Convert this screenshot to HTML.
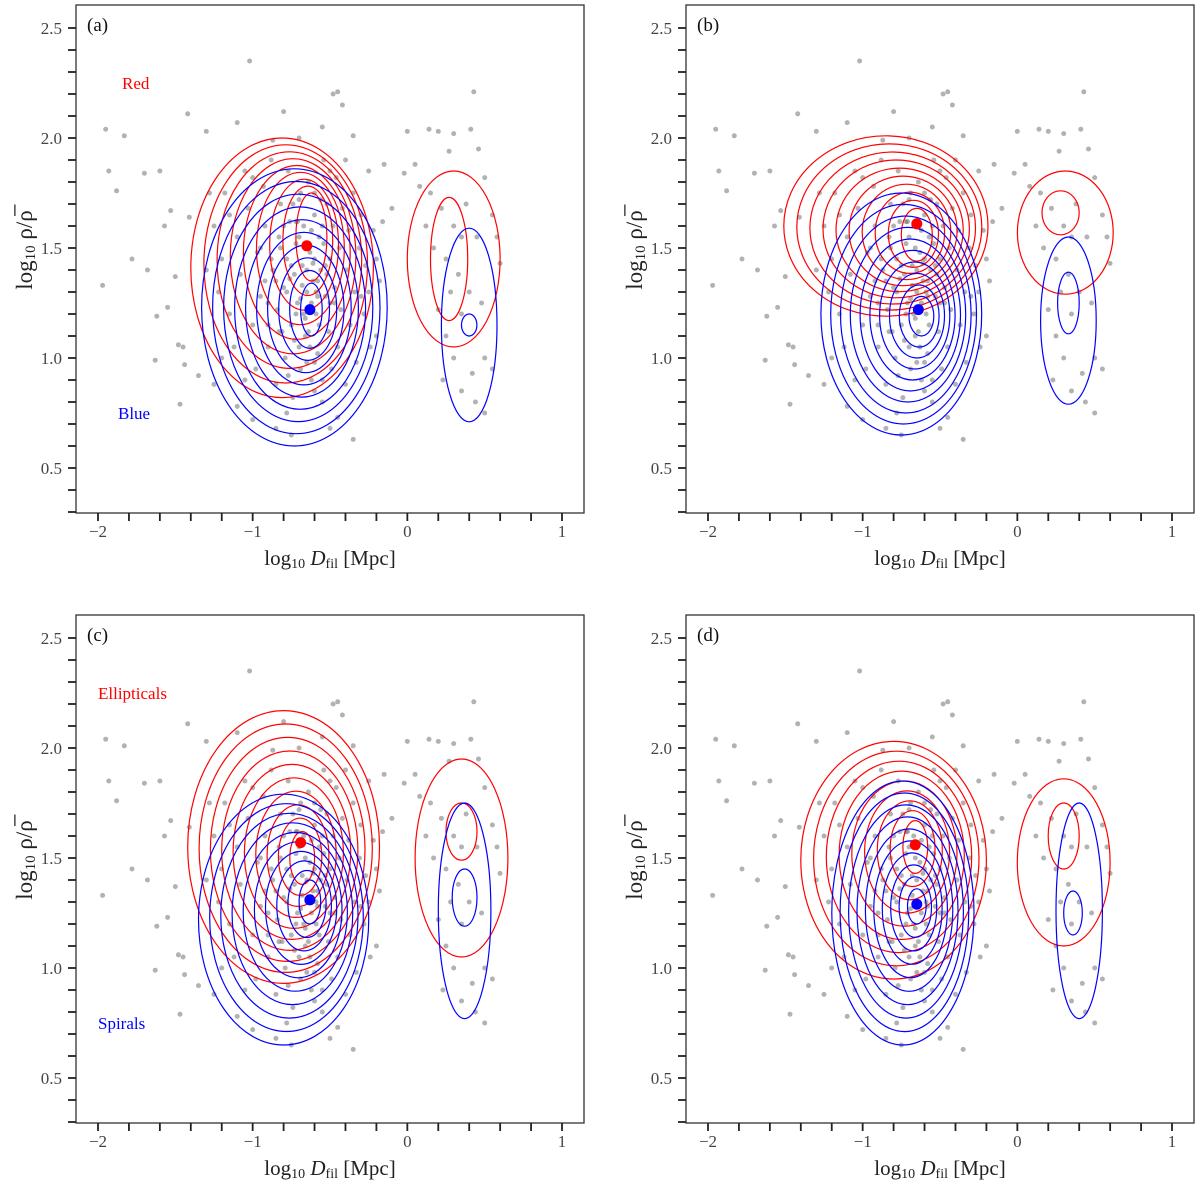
<!DOCTYPE html>
<html><head><meta charset="utf-8">
<style>
html,body{margin:0;padding:0;background:#fff;}
svg{display:block;font-family:"Liberation Serif",serif;}
</style></head>
<body>
<svg id="fig" width="1200" height="1189" viewBox="0 0 1200 1189" xmlns="http://www.w3.org/2000/svg"></svg>
<script>
// shared scatter data [log10 Dfil, log10 rho]
const scatterX = [-1.95,-1.83,-1.93,-1.88,-1.97,-1.78,-1.7,-1.6,-1.68,-1.62,-1.63,-1.55,-1.5,-1.48,-1.45,-1.44,-1.47,-1.53,-1.57,-1.42,-1.41,-1.02,-0.48,-0.42,-0.8,-0.45,-0.35,-0.55,-0.7,-0.87,-1.1,-1.3,0.0,0.14,0.2,0.3,0.41,0.43,0.27,0.46,-0.15,-0.02,0.05,0.08,-0.1,0.22,0.3,0.35,0.45,0.5,0.55,0.58,0.6,0.17,0.25,0.33,0.4,0.28,0.2,0.35,0.48,0.5,0.42,0.3,0.25,0.55,0.44,0.5,0.35,0.23,0.38,0.12,0.15,-0.2,-0.25,-0.2,-1.35,-1.25,-1.1,-1.0,-0.85,-0.75,-0.5,-0.35,-0.45,
-1.25,-1.2,-1.22,-1.18,-1.15,-1.12,-1.1,-1.08,-1.05,-1.03,-1.0,-0.98,-0.97,-0.95,-0.93,-0.92,-0.9,-0.88,-0.87,-0.85,-0.84,-0.83,-0.82,-0.8,-0.79,-0.78,-0.77,-0.76,-0.75,-0.74,-0.73,-0.72,-0.71,-0.7,-0.69,-0.68,-0.67,-0.66,-0.65,-0.64,-0.63,-0.62,-0.61,-0.6,-0.59,-0.58,-0.57,-0.56,-0.55,-0.54,-0.53,-0.52,-0.51,-0.5,-0.49,-0.48,-0.47,-0.46,-0.45,-0.44,-0.43,-0.42,-0.4,-0.39,-0.38,-0.37,-0.35,-0.34,-0.33,-0.31,-0.3,-0.28,-0.27,-0.25,-0.24,-0.22,-0.18,-0.16,
-0.78,-0.72,-0.68,-0.62,-0.6,-0.7,-0.65,-0.58,-0.75,-0.66,-0.57,-0.63,-0.8,-0.55,-0.85,-0.7,-0.6,-0.9,-0.52,-0.74,
-1.3,-1.15,-0.95,-0.9,-1.05,-0.6,-0.5,-0.4,-1.2,-1.28,-0.66,-0.72,-0.58,-0.83,-0.47,-0.92,-1.0,-0.3,-0.78,-0.55,
-0.69,-0.61,-0.76,-0.54,-0.64,-0.71,-0.59,-0.82,-0.67,-0.5,-0.73,-0.62,-0.88,-0.56,-0.77,-0.65,-0.69,-0.6,-0.81,-0.53];
const scatterY = [2.04,2.01,1.85,1.76,1.33,1.45,1.84,1.85,1.40,1.19,0.99,1.23,1.37,1.06,1.05,0.97,0.79,1.67,1.60,2.11,1.64,2.35,2.2,2.15,2.12,2.21,2.01,2.05,2.0,1.99,2.07,2.03,2.03,2.04,2.03,2.02,2.04,2.21,1.94,1.95,1.88,1.84,1.88,1.78,1.68,1.68,1.6,1.55,1.55,1.82,1.65,1.55,1.43,1.5,1.45,1.38,1.3,1.3,1.22,1.2,1.25,1.0,0.93,1.0,1.1,0.95,0.8,0.75,0.85,0.9,1.7,1.6,1.75,1.1,1.3,1.45,0.92,0.88,0.78,0.72,0.68,0.65,0.68,0.63,0.73,
1.6,1.45,1.3,1.75,1.2,1.05,1.55,1.38,1.85,1.68,1.15,0.95,1.48,1.28,1.78,1.6,1.05,1.9,1.4,0.88,1.22,1.55,1.7,1.32,1.0,1.45,1.85,1.62,1.15,0.82,1.38,1.52,1.25,1.72,0.95,1.42,1.6,1.1,1.3,1.8,1.48,0.9,1.35,1.65,1.2,1.02,1.55,1.4,0.8,1.9,1.28,1.7,1.12,1.45,0.95,1.6,1.32,1.82,1.05,1.5,1.22,1.68,0.88,1.4,1.58,1.15,1.75,1.3,0.98,1.5,1.65,1.2,1.42,1.85,1.05,1.58,1.35,1.62,
1.3,1.2,1.33,1.25,1.45,1.55,1.4,1.35,1.42,1.18,1.15,1.05,1.6,1.6,1.35,1.05,0.98,1.25,1.38,1.7,
1.4,1.65,1.5,1.15,0.9,1.75,1.85,1.9,1.0,1.75,1.5,1.62,1.28,1.12,1.25,1.35,1.82,1.28,0.75,0.9,
1.27,1.43,1.36,1.52,1.12,1.62,1.3,1.5,1.2,1.25,1.08,1.58,1.45,1.72,0.92,0.98,1.75,0.85,1.12,1.42];

// contour groups per panel: outer ellipse [cx, cy, rx, ry], inner ellipse, level count
const panelNames = ['a','b','c','d'];
const redOuter   = [[-0.81,1.41,0.59,0.59],[-0.85,1.60,0.66,0.41],[-0.80,1.55,0.62,0.62],[-0.80,1.49,0.60,0.54]];
const redInner   = [[-0.62,1.55,0.10,0.20],[-0.65,1.56,0.10,0.12],[-0.68,1.50,0.08,0.12],[-0.66,1.55,0.08,0.12]];
const redLevels  = [9,10,10,9];
const blueOuter  = [[-0.73,1.23,0.60,0.63],[-0.75,1.20,0.52,0.55],[-0.80,1.22,0.55,0.57],[-0.74,1.25,0.46,0.60]];
const blueInner  = [[-0.62,1.22,0.07,0.12],[-0.62,1.19,0.08,0.09],[-0.63,1.30,0.07,0.10],[-0.65,1.28,0.06,0.08]];
const blueLevels = [10,10,10,10];
const redSec     = [[[0.30,1.45,0.30,0.40],[0.27,1.45,0.12,0.28]],[[0.31,1.57,0.31,0.28],[0.28,1.66,0.12,0.10]],[[0.35,1.50,0.30,0.45],[0.35,1.62,0.10,0.13]],[[0.30,1.48,0.30,0.38],[0.30,1.60,0.10,0.15]]];
const blueSec    = [[[0.40,1.15,0.18,0.44],[0.40,1.15,0.05,0.05]],[[0.33,1.17,0.18,0.38],[0.33,1.25,0.07,0.14]],[[0.37,1.26,0.17,0.49],[0.37,1.32,0.08,0.13]],[[0.40,1.26,0.15,0.49],[0.36,1.25,0.06,0.10]]];
const redMeanX  = [-0.65,-0.65,-0.69,-0.66];
const redMeanY  = [1.51,1.61,1.57,1.56];
const blueMeanX = [-0.63,-0.64,-0.63,-0.65];
const blueMeanY = [1.22,1.22,1.31,1.29];
const redLabels  = ['Red','High mass','Ellipticals','High D4000'];
const blueLabels = ['Blue','Low mass','Spirals','Low D4000'];
const xTickLabels = ['\u22122','\u22121','0','1'];
const yTickLabels = ['0.5','1.0','1.5','2.0','2.5'];

const NS='http://www.w3.org/2000/svg';
const svg=document.getElementById('fig');
function mk(tag,attrs,parent){const e=document.createElementNS(NS,tag);for(const k in attrs)e.setAttribute(k,attrs[k]);(parent||svg).appendChild(e);return e;}

const offsets=[[0,0],[610,0],[0,610],[610,610]];
panelNames.forEach((p,i)=>{
  const ox=offsets[i][0], oy=offsets[i][1];
  const sx=v=>ox+98+(v+2)*154.67;
  const sy=v=>oy+468-(v-0.5)*220;
  const L=ox+76,R=ox+584,T=oy+5,B=oy+513;
  const g=mk('g',{});
  
  
  const clipId='clip'+p;
  const cp=mk('clipPath',{id:clipId},g);mk('rect',{x:L,y:T,width:R-L,height:B-T},cp);
  const plot=mk('g',{'clip-path':'url(#'+clipId+')'},g);
  const sg=mk('g',{},plot);
  
  
  for(let k=0;k<scatterX.length;k++){
    mk('circle',{cx:sx(scatterX[k]).toFixed(1),cy:sy(scatterY[k]).toFixed(1),r:2.5,fill:'#666','fill-opacity':0.5},sg);
  }
  function ell(e,col,name){
    const el=mk('ellipse',{cx:sx(e[0]).toFixed(1),cy:sy(e[1]).toFixed(1),rx:(e[2]*154.67).toFixed(1),ry:(e[3]*220).toFixed(1),fill:'none',stroke:col,'stroke-width':1.2},plot);
    
    
  }
  function levels(o,inn,n,col,name){
    for(let l=0;l<n;l++){const t=l/(n-1);ell(o.map((v,j)=>v+(inn[j]-v)*t),col,name);}
  }
  levels(redOuter[i],redInner[i],redLevels[i],'#f00','red-contour');
  levels(blueOuter[i],blueInner[i],blueLevels[i],'#00f','blue-contour');
  redSec[i].forEach(e=>ell(e,'#f00','red-secondary-contour'));
  blueSec[i].forEach(e=>ell(e,'#00f','blue-secondary-contour'));
  const rm=mk('circle',{cx:sx(redMeanX[i]),cy:sy(redMeanY[i]),r:5.5,fill:'#f00'},plot);
  
  
  const bm=mk('circle',{cx:sx(blueMeanX[i]),cy:sy(blueMeanY[i]),r:5.5,fill:'#00f'},plot);
  
  
  const fr=mk('rect',{x:L,y:T,width:R-L,height:B-T,fill:'none',stroke:'#333','stroke-width':1.3},g);
  
  
  for(let k=0;k<=15;k++){const v=-2+k*0.2;const x=sx(v);mk('line',{x1:x,x2:x,y1:B,y2:B+8,stroke:'#222','stroke-width':1.8},g);}
  xTickLabels.forEach((s,k)=>{const t=mk('text',{x:sx(-2+k),y:B+24,'text-anchor':'middle','font-size':17,fill:'#444'},g);t.textContent=s;
    });
  for(let k=0;k<=22;k++){const v=0.3+k*0.1;const y=sy(v);if(y<T-1)continue;mk('line',{x1:L-8,x2:L,y1:y,y2:y,stroke:'#222','stroke-width':1.8},g);}
  yTickLabels.forEach((s,k)=>{const t=mk('text',{x:L-14,y:sy(0.5+k*0.5)+6,'text-anchor':'end','font-size':17,fill:'#444'},g);t.textContent=s;
    });
  const xt=mk('text',{x:ox+330,y:oy+565,'text-anchor':'middle','font-size':21,fill:'#222'},g);
  xt.innerHTML='log<tspan font-size="14" dy="3">10</tspan><tspan dy="-3"> </tspan><tspan font-style="italic">D</tspan><tspan font-size="14" dy="3">fil</tspan><tspan dy="-3"> [Mpc]</tspan>';
  
  const yt=mk('text',{x:0,y:0,'text-anchor':'middle','font-size':23,fill:'#222',transform:'translate('+(ox+32)+','+(oy+250)+') rotate(-90)'},g);
  yt.innerHTML='log<tspan font-size="15" dy="3">10</tspan><tspan dy="-3"> ρ/ρ\u0305</tspan>';
  
  const pl=mk('text',{x:L+11,y:T+26,'font-size':19,fill:'#111'},g);pl.textContent='('+p+')';
  
  const rl=mk('text',{x:ox+(i%2?705:(i==0?122:98)),y:oy+89,'font-size':17,fill:'#f00'},g);rl.textContent=redLabels[i];
  
  const bl=mk('text',{x:ox+(i%2?708:(i==0?118:98)),y:oy+419,'font-size':17,fill:'#00f'},g);bl.textContent=blueLabels[i];
  
});
</script>
</body></html>
